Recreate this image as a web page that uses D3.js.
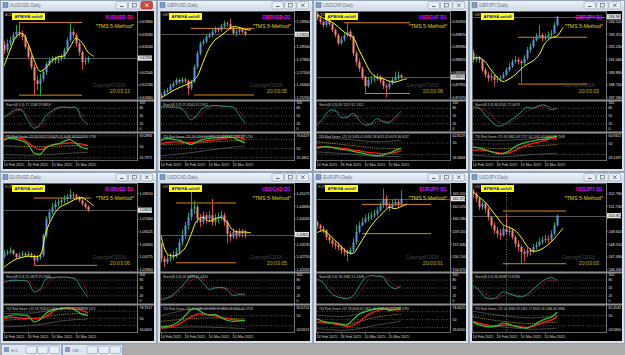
<!DOCTYPE html>
<html>
<head>
<meta charset="utf-8">
<script src="https://cdn.jsdelivr.net/npm/d3@7"></script>
<style>
  body { margin: 0; background: #ababab; overflow: hidden; }
  svg { display: block; }
  text { font-family: "Liberation Sans", Arial, sans-serif; }
</style>
</head>
<body>
<svg id="desk" width="625" height="355"></svg>
<script>
// Daily bars 14 Feb 2025 .. 26 Mar 2025
const dateLabels = ['14 Feb 2025', '26 Feb 2025', '10 Mar 2025', '20 Mar 2025'];
const dateBars = [0, 8, 16, 24];
const maStep = 2;          // MA / Stoch / TDI values are given every 2 bars
const bandBars = [0, 10, 20, 28];

// ---------- AUDUSD ----------
const audusdOpen0 = 0.6330;
const audusdClose = [0.6315,0.6334,0.6343,0.6357,0.6366,0.6362,0.6352,0.6324,0.6297,0.6269,0.6232,0.6222,0.6236,0.6255,0.6278,0.6287,0.6292,0.6287,0.6292,0.6297,0.6315,0.6343,0.6366,0.6357,0.6334,0.6310,0.6283,0.6287,0.62934];
const audusdHigh = [0.6340,0.6345,0.6352,0.6364,0.6385,0.6390,0.6370,0.6360,0.6332,0.6303,0.6276,0.6245,0.6250,0.6262,0.6283,0.6295,0.6300,0.6298,0.6300,0.6305,0.6322,0.6350,0.6392,0.6375,0.6362,0.6340,0.6315,0.6296,0.6298];
const audusdLow = [0.6305,0.6308,0.6326,0.6336,0.6350,0.6352,0.6342,0.6318,0.6290,0.6262,0.6190,0.6205,0.6188,0.6228,0.6248,0.6270,0.6280,0.6278,0.6280,0.6285,0.6290,0.6310,0.6338,0.6348,0.6325,0.6300,0.6262,0.6275,0.6280];
const audusdMa = [0.6271,0.6315,0.6352,0.6362,0.6334,0.6289,0.6257,0.6267,0.6287,0.6297,0.6300,0.6324,0.6348,0.6336,0.6310,0.6298];
const audusdTicks = [0.63940,0.63590,0.63240,0.62890,0.62540,0.62190,0.61840];
const audusdLevels = [0.6392, 0.6191];
const audusdLevelBars = [[5, 26], [5, 26]];
const audusdStochK = [45,61,74,71,32,3,17,52,69,82,85,82,82,39,17.1188];
const audusdStochD = [50,55,68,74,50,15,8,35,60,78,84,83,84,55,29.8818];
const audusdTdiGreen = [61,64,62.5,60,54,40,38,48,53,55,59,62,56,49,46.6520];
const audusdTdiRed = [63,64.5,64.8,63.5,57,50,45.5,49,53,54.5,55.5,56.4,55.8,54.5,51.5758];
const audusdTdiUpper = [66.5,65,64.5,65.9321];
const audusdTdiBase = [52,50.5,51.5,53.4629];
const audusdTdiLower = [37.5,36.5,39,41.0036];
const audusdTdiRange = [31.7971, 69.2894];

// ---------- GBPUSD ----------
const gbpusdOpen0 = 1.2570;
const gbpusdClose = [1.2585,1.2603,1.2612,1.2635,1.2649,1.2668,1.2658,1.2671,1.2664,1.2622,1.2658,1.2741,1.2815,1.2870,1.2880,1.2907,1.2916,1.2935,1.2953,1.2944,1.2966,1.2981,1.2977,1.2953,1.2926,1.2935,1.2948,1.2935,1.29207];
const gbpusdHigh = [1.2598,1.2615,1.2625,1.2648,1.2662,1.2680,1.2676,1.2684,1.2680,1.2670,1.2668,1.2752,1.2828,1.2882,1.2895,1.2918,1.2930,1.2948,1.2965,1.2960,1.2978,1.2995,1.2990,1.3008,1.2962,1.2945,1.2960,1.2952,1.2942];
const gbpusdLow = [1.2561,1.2578,1.2595,1.2605,1.2625,1.2640,1.2645,1.2648,1.2652,1.2585,1.2612,1.2650,1.2730,1.2805,1.2860,1.2870,1.2898,1.2905,1.2925,1.2930,1.2935,1.2955,1.2962,1.2945,1.2915,1.2910,1.2922,1.2925,1.2910];
const gbpusdMa = [1.2570,1.2588,1.2609,1.2625,1.2640,1.2655,1.2686,1.2765,1.2843,1.2889,1.2913,1.2940,1.2962,1.2959,1.2948,1.2944];
const gbpusdTicks = [1.29900,1.29200,1.28500,1.27800,1.27100,1.26400,1.25700];
const gbpusdLevels = [1.2953, 1.2585];
const gbpusdLevelBars = [[10, 31], [11, 31]];
const gbpusdStochK = [86,85,84,82,65,35,55,80,88,91,88,86,84,55,21.6202];
const gbpusdStochD = [84,85,85,83,75,50,45,65,82,88,89,87,85,70,41.2952];
const gbpusdTdiGreen = [66,70,68,66,62,58,63,68,70,71,72,73,72,66,61.2945];
const gbpusdTdiRed = [60,62,63,63,62,62,63,64,66,67,69,71,72,72,68.1230];
const gbpusdTdiUpper = [71,72,75,76.1204];
const gbpusdTdiBase = [58,60,64,66.8800];
const gbpusdTdiLower = [36,42,50,55.4132];
const gbpusdTdiRange = [31.4802, 76.6419];

// ---------- USDCHF ----------
const usdchfOpen0 = 0.9065;
const usdchfClose = [0.9048,0.9035,0.9022,0.9041,0.9026,0.9003,0.8984,0.8953,0.8968,0.8984,0.8997,0.8978,0.8915,0.8883,0.8858,0.8824,0.8791,0.8814,0.8816,0.8819,0.8827,0.8811,0.8791,0.8786,0.8801,0.8814,0.8823,0.8832,0.88254];
const usdchfHigh = [0.9073,0.9055,0.9042,0.9050,0.9046,0.9030,0.9010,0.8992,0.8980,0.8992,0.9031,0.9005,0.8985,0.8925,0.8895,0.8865,0.8830,0.8826,0.8830,0.8835,0.8838,0.8832,0.8818,0.8800,0.8808,0.8822,0.8846,0.8846,0.8838];
const usdchfLow = [0.9040,0.9025,0.9012,0.9015,0.9018,0.8995,0.8975,0.8945,0.8948,0.8960,0.8978,0.8968,0.8905,0.8870,0.8845,0.8815,0.8766,0.8785,0.8800,0.8805,0.8812,0.8800,0.8780,0.8748,0.8778,0.8795,0.8808,0.8815,0.8815];
const usdchfMa = [0.9060,0.9050,0.9039,0.9026,0.9006,0.8988,0.8976,0.8928,0.8883,0.8842,0.8824,0.8819,0.8810,0.8806,0.8813,0.8819];
const usdchfTicks = [0.90350,0.89870,0.89390,0.88910,0.88430,0.87950,0.87470];
const usdchfLevels = [0.9031, 0.8763];
const usdchfLevelBars = [[9, 31], [16, 31]];
const usdchfStochK = [15,40,70,72,45,45,60,35,15,20,40,28,25,45,69.1257];
const usdchfStochD = [30,30,55,68,60,48,52,48,28,18,28,32,28,35,61.1921];
const usdchfTdiGreen = [42,44,44,42,40,39,37,35,33,31,30,31,34,38,41.6676];
const usdchfTdiRed = [44,44,43,43,42,41,39,38,36,35,34,33,34,35,38.0537];
const usdchfTdiUpper = [59,56,52,54.5433];
const usdchfTdiBase = [52,47,42,41.6933];
const usdchfTdiLower = [36,33,29,28.8413];
const usdchfTdiRange = [26.3668, 62.8129];

// ---------- GBPJPY ----------
const gbpjpyOpen0 = 191.70;
const gbpjpyClose = [191.03,191.18,191.03,190.12,189.67,189.37,189.52,189.21,189.30,189.37,189.67,190.12,190.42,190.88,191.03,190.88,190.73,191.18,191.94,192.24,192.85,193.15,193.30,193.00,193.15,193.30,193.45,194.21,194.963];
const gbpjpyHigh = [191.95,191.45,191.40,191.10,190.30,189.90,189.85,189.70,189.55,189.60,189.95,190.35,190.75,191.10,191.40,191.25,191.05,191.45,192.20,192.55,193.10,193.45,194.21,193.50,193.40,193.60,193.75,194.45,195.05];
const gbpjpyLow = [190.80,190.85,190.75,189.90,189.40,189.05,189.10,188.61,188.95,189.05,189.30,189.55,189.95,190.30,190.70,190.60,188.91,190.55,191.00,191.70,192.10,192.70,192.95,192.75,192.80,192.95,193.05,193.35,194.05];
const gbpjpyMa = [191.18,191.24,190.88,190.12,189.46,189.06,189.27,189.67,190.18,190.64,190.94,191.48,192.54,193.03,193.21,194.00];
const gbpjpyTicks = [194.510,193.370,192.230,191.060,189.890,188.750,187.580];
const gbpjpyLevels = [193.09, 188.82];
const gbpjpyLevelBars = [[15, 38], [15, 38]];
const gbpjpyStochK = [85,80,55,30,12,15,30,45,65,83,80,90,92,75,80.6161];
const gbpjpyStochD = [75,78,72,55,30,20,20,35,50,68,80,85,88,85,71.0079];
const gbpjpyTdiGreen = [45,43,40,37,34,34,38,45,50,53,55,57,58,61,63.0817];
const gbpjpyTdiRed = [39,40,39,37,35,34,35,39,44,48,51,53,56,58,59.7948];
const gbpjpyTdiUpper = [57,56,59,63.3862];
const gbpjpyTdiBase = [44,42,46,48.7727];
const gbpjpyTdiLower = [31,28,32,34.1592];
const gbpjpyTdiRange = [26.1329, 64.9322];

// ---------- EURUSD ----------
const eurusdOpen0 = 1.0480;
const eurusdClose = [1.0500,1.0512,1.0523,1.0500,1.0477,1.0489,1.0500,1.0489,1.0500,1.0489,1.0454,1.0477,1.0489,1.0627,1.0742,1.0788,1.0823,1.0846,1.0857,1.0869,1.0880,1.0892,1.0908,1.0903,1.0892,1.0869,1.0846,1.0823,1.08011];
const eurusdHigh = [1.0525,1.0530,1.0545,1.0530,1.0505,1.0510,1.0520,1.0512,1.0518,1.0510,1.0495,1.0492,1.0505,1.0640,1.0760,1.0810,1.0850,1.0870,1.0880,1.0890,1.0905,1.0915,1.0945,1.0925,1.0915,1.0900,1.0878,1.0855,1.0835];
const eurusdLow = [1.0470,1.0488,1.0500,1.0490,1.0465,1.0468,1.0480,1.0475,1.0478,1.0470,1.0415,1.0445,1.0460,1.0478,1.0610,1.0720,1.0770,1.0805,1.0825,1.0835,1.0848,1.0860,1.0875,1.0880,1.0870,1.0855,1.0830,1.0810,1.0790];
const eurusdMa = [1.0408,1.0438,1.0464,1.0475,1.0484,1.0480,1.0489,1.0650,1.0747,1.0811,1.0837,1.0857,1.0880,1.0887,1.0862,1.0830];
const eurusdTicks = [1.09150,1.08275,1.07400,1.06525,1.05650,1.04775,1.03900];
const eurusdLevels = [1.0885, 1.0420];
const eurusdLevelBars = [[10, 29], [10, 31]];
const eurusdStochK = [73,79,80,78,75,35,45,85,90,92,92,90,82,45,15.0873];
const eurusdStochD = [70,75,78,79,77,60,40,60,85,90,92,91,88,70,29.9906];
const eurusdTdiGreen = [53,57,59,58,56,41,46,63,70,74,76,76,70,60,57.2648];
const eurusdTdiRed = [49,53,52,50,50,49,49,55,65,73,75,75,74,70,64.2571];
const eurusdTdiUpper = [62,64,76,76.7626];
const eurusdTdiBase = [45,50,60,62.4600];
const eurusdTdiLower = [28,32,44,48.1574];
const eurusdTdiRange = [20.0605, 78.7517];

// ---------- USDCAD ----------
const usdcadOpen0 = 1.4326;
const usdcadClose = [1.4269,1.4256,1.4269,1.4275,1.4281,1.4294,1.4332,1.4358,1.4396,1.4428,1.4460,1.4466,1.4422,1.4409,1.4435,1.4422,1.4435,1.4409,1.4422,1.4428,1.4435,1.4409,1.4364,1.4352,1.4371,1.4358,1.4371,1.4366,1.43612];
const usdcadHigh = [1.4330,1.4280,1.4285,1.4290,1.4298,1.4310,1.4345,1.4380,1.4410,1.4445,1.4537,1.4490,1.4475,1.4440,1.4450,1.4445,1.4450,1.4498,1.4440,1.4445,1.4452,1.4445,1.4418,1.4375,1.4385,1.4380,1.4385,1.4382,1.4378];
const usdcadLow = [1.4255,1.4237,1.4248,1.4258,1.4265,1.4272,1.4285,1.4320,1.4345,1.4380,1.4415,1.4440,1.4405,1.4390,1.4400,1.4405,1.4410,1.4395,1.4395,1.4405,1.4415,1.4395,1.4326,1.4335,1.4345,1.4345,1.4350,1.4350,1.4348];
const usdcadMa = [1.4358,1.4288,1.4279,1.4287,1.4310,1.4361,1.4415,1.4427,1.4412,1.4422,1.4427,1.4409,1.4377,1.4371,1.4371,1.4367];
const usdcadTicks = [1.45175,1.44690,1.44205,1.43720,1.43235,1.42750,1.42265];
const usdcadLevels = [1.4482, 1.4253];
const usdcadLevelBars = [[5, 25], [5, 25]];
const usdcadStochK = [5,10,25,45,70,95,92,70,45,50,53,45,22,25,26.8375];
const usdcadStochD = [12,14,18,35,55,80,90,82,62,52,50,50,38,28,21.4420];
const usdcadTdiGreen = [30,31,34,40,50,61,62,55,51,52,47,42,40,41,41.8350];
const usdcadTdiRed = [28,29,31,35,42,48,53,53,52,50,47,45,43,42,41.3718];
const usdcadTdiUpper = [50,62,63,61.1080];
const usdcadTdiBase = [40,45,46,44.0936];
const usdcadTdiLower = [28,30,29,27.0813];
const usdcadTdiRange = [24.5613, 65.6714];

// ---------- EURJPY ----------
const eurjpyOpen0 = 160.20;
const eurjpyClose = [159.85,159.46,159.27,158.49,158.10,157.71,157.51,157.32,156.93,156.73,156.54,156.93,157.90,159.07,159.85,160.24,160.63,160.82,161.02,161.21,161.60,162.19,162.97,162.19,161.99,162.38,162.58,162.38,162.972];
const eurjpyHigh = [160.40,160.05,159.80,159.40,158.75,158.35,158.00,157.85,157.55,157.20,157.00,157.30,158.40,159.90,160.30,160.70,161.10,161.30,161.45,161.65,162.00,162.55,164.13,163.40,162.60,162.80,163.00,162.90,163.94];
const eurjpyLow = [159.50,159.10,158.90,158.10,157.70,157.30,157.05,156.90,156.50,156.30,155.64,156.40,156.70,157.60,158.90,159.70,160.10,160.30,160.50,160.75,161.00,161.45,161.90,161.90,161.50,161.80,162.05,161.95,162.10];
const eurjpyMa = [158.99,159.23,158.76,158.10,157.40,156.77,156.58,157.51,158.68,159.77,160.63,161.33,161.95,161.80,162.03,162.34];
const eurjpyTicks = [163.550,162.070,160.590,159.110,157.630,156.150,154.670];
const eurjpyLevels = [162.30, 158.88];
const eurjpyLevelBars = [[15, 38], [15, 38]];
const eurjpyStochK = [86,70,40,20,12,10,20,55,88,98,95,92,60,48,58.2081];
const eurjpyStochD = [80,75,60,35,18,8,10,30,65,90,96,95,80,60,51.2408];
const eurjpyTdiGreen = [52,46,44,42,40,38,50,62,68,72,75,76,71,73,76.1653];
const eurjpyTdiRed = [44,44,42,40,37,35,37,45,56,64,70,73,74,72,72.0783];
const eurjpyTdiUpper = [60,58,74,78.0606];
const eurjpyTdiBase = [44,40,56,62.2801];
const eurjpyTdiLower = [30,26,38,46.5000];
const eurjpyTdiRange = [26.6200, 78.4625];

// ---------- USDJPY ----------
const usdjpyOpen0 = 153.05;
const usdjpyClose = [152.79,152.37,151.67,151.95,151.53,150.84,150.14,149.72,149.44,149.30,149.86,149.58,149.72,149.16,148.61,148.33,147.91,147.77,148.05,147.91,148.33,148.47,148.75,148.89,149.02,148.95,149.44,150.14,150.952];
const usdjpyHigh = [153.20,152.95,152.50,152.15,152.10,151.60,150.95,150.40,150.00,149.85,150.10,151.12,150.05,149.85,149.30,148.90,148.50,148.20,148.30,148.25,148.60,148.75,149.05,149.20,149.35,149.30,149.70,150.40,151.03];
const usdjpyLow = [152.45,152.10,151.40,151.45,151.20,150.55,149.90,149.45,149.10,148.95,149.20,149.35,149.30,148.95,148.30,147.95,146.93,147.10,147.50,147.60,147.80,148.10,148.35,148.55,148.70,148.65,148.85,149.30,150.05];
const usdjpyMa = [152.93,152.51,152.09,151.48,150.84,150.20,149.97,149.72,149.16,148.41,147.99,148.05,148.33,148.75,149.30,149.92];
const usdjpyTicks = [152.790,151.730,150.670,149.610,148.550,147.490,146.430];
const usdjpyLevels = [151.34, 146.93];
const usdjpyLevelBars = [[10, 31], [10, 31]];
const usdjpyStochK = [60,42,14,8,15,35,28,20,16,25,45,65,82,90,80.8288];
const usdjpyStochD = [50,48,30,12,10,20,30,25,20,20,32,50,68,80,75.8784];
const usdjpyTdiGreen = [39,34,31,30,32,37,35,31,29,28,32,39,44,47,56.1486];
const usdjpyTdiRed = [40,37,34,32,32,33,33,32,30,29,31,35,39,42,48.3966];
const usdjpyTdiUpper = [58,50,46,50.3684];
const usdjpyTdiBase = [48,40,36,39.1302];
const usdjpyTdiLower = [36,30,26,27.8920];
const usdjpyTdiRange = [24.5800, 65.4545];
const usdjpySeparators = [11];

// table for drawing, built from the arrays above
const charts = [
  { sym: 'AUDUSD', time: '20:03:13', digits: 5, active: true, open0: audusdOpen0, close: audusdClose, high: audusdHigh, low: audusdLow, ma: audusdMa, ticks: audusdTicks, levels: audusdLevels, levelBars: audusdLevelBars, k: audusdStochK, d: audusdStochD, green: audusdTdiGreen, red: audusdTdiRed, upper: audusdTdiUpper, base: audusdTdiBase, lower: audusdTdiLower, range: audusdTdiRange, seps: [] },
  { sym: 'GBPUSD', time: '20:03:05', digits: 5, open0: gbpusdOpen0, close: gbpusdClose, high: gbpusdHigh, low: gbpusdLow, ma: gbpusdMa, ticks: gbpusdTicks, levels: gbpusdLevels, levelBars: gbpusdLevelBars, k: gbpusdStochK, d: gbpusdStochD, green: gbpusdTdiGreen, red: gbpusdTdiRed, upper: gbpusdTdiUpper, base: gbpusdTdiBase, lower: gbpusdTdiLower, range: gbpusdTdiRange, seps: [] },
  { sym: 'USDCHF', time: '20:03:08', digits: 5, open0: usdchfOpen0, close: usdchfClose, high: usdchfHigh, low: usdchfLow, ma: usdchfMa, ticks: usdchfTicks, levels: usdchfLevels, levelBars: usdchfLevelBars, k: usdchfStochK, d: usdchfStochD, green: usdchfTdiGreen, red: usdchfTdiRed, upper: usdchfTdiUpper, base: usdchfTdiBase, lower: usdchfTdiLower, range: usdchfTdiRange, seps: [] },
  { sym: 'GBPJPY', time: '20:03:03', digits: 3, open0: gbpjpyOpen0, close: gbpjpyClose, high: gbpjpyHigh, low: gbpjpyLow, ma: gbpjpyMa, ticks: gbpjpyTicks, levels: gbpjpyLevels, levelBars: gbpjpyLevelBars, k: gbpjpyStochK, d: gbpjpyStochD, green: gbpjpyTdiGreen, red: gbpjpyTdiRed, upper: gbpjpyTdiUpper, base: gbpjpyTdiBase, lower: gbpjpyTdiLower, range: gbpjpyTdiRange, seps: [] },
  { sym: 'EURUSD', time: '20:03:06', digits: 5, open0: eurusdOpen0, close: eurusdClose, high: eurusdHigh, low: eurusdLow, ma: eurusdMa, ticks: eurusdTicks, levels: eurusdLevels, levelBars: eurusdLevelBars, k: eurusdStochK, d: eurusdStochD, green: eurusdTdiGreen, red: eurusdTdiRed, upper: eurusdTdiUpper, base: eurusdTdiBase, lower: eurusdTdiLower, range: eurusdTdiRange, seps: [] },
  { sym: 'USDCAD', time: '20:03:05', digits: 5, open0: usdcadOpen0, close: usdcadClose, high: usdcadHigh, low: usdcadLow, ma: usdcadMa, ticks: usdcadTicks, levels: usdcadLevels, levelBars: usdcadLevelBars, k: usdcadStochK, d: usdcadStochD, green: usdcadTdiGreen, red: usdcadTdiRed, upper: usdcadTdiUpper, base: usdcadTdiBase, lower: usdcadTdiLower, range: usdcadTdiRange, seps: [] },
  { sym: 'EURJPY', time: '20:03:01', digits: 3, open0: eurjpyOpen0, close: eurjpyClose, high: eurjpyHigh, low: eurjpyLow, ma: eurjpyMa, ticks: eurjpyTicks, levels: eurjpyLevels, levelBars: eurjpyLevelBars, k: eurjpyStochK, d: eurjpyStochD, green: eurjpyTdiGreen, red: eurjpyTdiRed, upper: eurjpyTdiUpper, base: eurjpyTdiBase, lower: eurjpyTdiLower, range: eurjpyTdiRange, seps: [] },
  { sym: 'USDJPY', time: '20:03:03', digits: 3, open0: usdjpyOpen0, close: usdjpyClose, high: usdjpyHigh, low: usdjpyLow, ma: usdjpyMa, ticks: usdjpyTicks, levels: usdjpyLevels, levelBars: usdjpyLevelBars, k: usdjpyStochK, d: usdjpyStochD, green: usdjpyTdiGreen, red: usdjpyTdiRed, upper: usdjpyTdiUpper, base: usdjpyTdiBase, lower: usdjpyTdiLower, range: usdjpyTdiRange, seps: usdjpySeparators }
];

const svg = d3.select('#desk');
const defs = svg.append('defs');
const tg = defs.append('linearGradient').attr('id', 'titleGrad').attr('x1', 0).attr('y1', 0).attr('x2', 0).attr('y2', 1);
tg.append('stop').attr('offset', '0%').attr('stop-color', '#eef3f9');
tg.append('stop').attr('offset', '100%').attr('stop-color', '#cfdae8');

svg.append('rect').attr('width', 625).attr('height', 355).attr('fill', '#ababab');

const colX = [0, 157, 313, 469];
const colW = [157, 156, 156, 156];
const rowY = [0, 172];
const winH = 172;
const fmt4 = d3.format('.4f');
const smooth = d3.curveCatmullRom.alpha(0.5);

function txt(g, x, y, s, size, fill, opts = {}) {
  return g.append('text').attr('x', x).attr('y', y).text(s)
    .attr('font-size', size).attr('fill', fill)
    .attr('font-weight', opts.bold ? 'bold' : null)
    .attr('text-anchor', opts.anchor || 'start');
}

function drawWindow(c, idx) {
  const w = colW[idx % 4];
  const g = svg.append('g').attr('transform', `translate(${colX[idx % 4]},${rowY[Math.floor(idx / 4)]})`);

  // window frame + title bar
  g.append('rect').attr('x', 0.5).attr('y', 0.5).attr('width', w - 1).attr('height', winH - 1)
    .attr('fill', '#d7e0ea').attr('stroke', '#95a5b8');
  g.append('rect').attr('x', 1).attr('y', 1).attr('width', w - 2).attr('height', 9).attr('fill', 'url(#titleGrad)');
  g.append('rect').attr('x', 3).attr('y', 2.5).attr('width', 5).attr('height', 5).attr('fill', '#7d9cc4').attr('stroke', '#4d6c94').attr('stroke-width', 0.5);
  txt(g, 10, 7.4, `${c.sym},Daily`, 4.6, '#6b7480');
  ['min', 'max', 'close'].forEach((b, j) => {
    const bx = w - 41 + j * 12.5;
    const red = c.active && b === 'close';
    g.append('rect').attr('x', bx).attr('y', 1.5).attr('width', 11.5).attr('height', 7.5).attr('rx', 1.5)
      .attr('fill', red ? '#cf4a3c' : '#e8eef5').attr('stroke', red ? '#8e2a20' : '#8d9bad').attr('stroke-width', 0.6);
    const gc = red ? '#fff' : '#5b6775';
    if (b === 'min') g.append('line').attr('x1', bx + 4).attr('x2', bx + 7.5).attr('y1', 6.5).attr('y2', 6.5).attr('stroke', gc);
    if (b === 'max') g.append('rect').attr('x', bx + 3.8).attr('y', 3.5).attr('width', 4).attr('height', 3.5).attr('fill', 'none').attr('stroke', gc).attr('stroke-width', 0.7);
    if (b === 'close') g.append('path').attr('d', `M${bx + 4},3.5L${bx + 7.5},7M${bx + 7.5},3.5L${bx + 4},7`).attr('stroke', gc).attr('stroke-width', 0.9);
  });

  // black chart area
  g.append('rect').attr('x', 3).attr('y', 11).attr('width', w - 6).attr('height', 158).attr('fill', '#000');

  const x = d3.scaleLinear().domain([0, 44]).range([4, 136]);
  const y = d3.scaleLinear().domain([c.ticks[c.ticks.length - 1], c.ticks[0]]).range([97.7, 21.7]);
  const ys = d3.scaleLinear().domain([0, 100]).range([129, 103]);
  const yt = d3.scaleLinear().domain(c.range).range([158, 135]);

  const clipId = 'clip' + idx;
  g.append('clipPath').attr('id', clipId).append('rect').attr('x', 4).attr('y', 12).attr('width', 133).attr('height', 87);
  const main = g.append('g').attr('clip-path', `url(#${clipId})`);

  // vertical period separators
  c.seps.forEach(b => {
    g.append('line').attr('x1', x(b) + 0.5).attr('x2', x(b) + 0.5).attr('y1', 12).attr('y2', 160)
      .attr('stroke', '#9a9a9a').attr('stroke-dasharray', '1,1.5').attr('stroke-width', 0.7);
  });

  // bid line
  const last = c.close[c.close.length - 1];
  main.append('line').attr('x1', 4).attr('x2', 137).attr('y1', Math.round(y(last)) + 0.5).attr('y2', Math.round(y(last)) + 0.5)
    .attr('stroke', '#6a6a6a').attr('stroke-width', 0.8);

  // support / resistance lines
  main.selectAll('line.level').data(c.levels.map((v, k) => ({ v, from: c.levelBars[k][0], to: c.levelBars[k][1] })))
    .join('line').attr('class', 'level')
    .attr('x1', d => x(d.from)).attr('x2', d => x(d.to))
    .attr('y1', d => y(d.v)).attr('y2', d => y(d.v))
    .attr('stroke', '#d8861c').attr('stroke-width', 1);

  // candles
  const bars = c.close.map((cl, i) => {
    const o = i ? c.close[i - 1] : c.open0;
    return { i, o, c: cl, h: Math.max(c.high[i], o, cl), l: Math.min(c.low[i], o, cl) };
  });
  main.selectAll('line.wick').data(bars).join('line').attr('class', 'wick')
    .attr('x1', d => x(d.i) + 0.5).attr('x2', d => x(d.i) + 0.5)
    .attr('y1', d => y(d.h)).attr('y2', d => y(d.l))
    .attr('stroke', d => d.c >= d.o ? '#22a822' : '#d8473c').attr('stroke-width', 1);
  main.selectAll('rect.body').data(bars).join('rect').attr('class', 'body')
    .attr('x', d => x(d.i) - 0.5).attr('width', 2)
    .attr('y', d => y(Math.max(d.o, d.c)))
    .attr('height', d => Math.max(0.8, Math.abs(y(d.o) - y(d.c))))
    .attr('fill', d => d.c >= d.o ? '#5a90ea' : '#f2897d');

  // displaced MA
  main.append('path').datum(c.ma)
    .attr('d', d3.line().x((v, j) => x(j * maStep)).y(v => y(v)).curve(smooth))
    .attr('fill', 'none').attr('stroke', '#ffff00').attr('stroke-width', 1);

  // panel frames
  g.append('rect').attr('x', 3.5).attr('y', 11.5).attr('width', 134).attr('height', 149)
    .attr('fill', 'none').attr('stroke', '#7d7d7d').attr('stroke-width', 0.8);
  g.append('rect').attr('x', 3).attr('y', 99.5).attr('width', w - 6).attr('height', 2).attr('fill', '#8e8e8e');
  g.append('rect').attr('x', 3).attr('y', 131.5).attr('width', w - 6).attr('height', 2).attr('fill', '#8e8e8e');

  // overlays (symbol name mostly hidden behind the yellow button, only its start shows)
  txt(g, 5, 16.3, c.sym.slice(0, 3), 3.6, '#a8a8a8');
  g.append('rect').attr('x', 12).attr('y', 13).attr('width', 33).attr('height', 7).attr('fill', '#ffff00');
  txt(g, 28.5, 18.4, 'APB/HA on/off', 4.1, '#0000ee', { bold: true, anchor: 'middle' });
  txt(g, 133.5, 19, `${c.sym} D1`, 4.9, '#ff00ff', { bold: true, anchor: 'end' });
  txt(g, 134, 28, '*TMS 5-Method*', 5.2, '#e2c824', { anchor: 'end' });
  txt(g, 93, 86.5, 'Copyright©2016', 4.5, '#4c4c4c');
  txt(g, 130, 92.5, c.time, 5.2, '#c4ae10', { anchor: 'end' });

  // price axis (labels hidden by the bid box are not drawn)
  const visTicks = c.ticks.filter(v => Math.abs(y(v) - y(last)) > 4.2);
  g.selectAll('text.tick').data(visTicks).join('text').attr('class', 'tick')
    .attr('x', 139.5).attr('y', v => y(v) + 1.3).text(v => v.toFixed(c.digits))
    .attr('font-size', 3.7).attr('fill', '#e4e4e4');
  g.selectAll('line.tickm').data(c.ticks).join('line').attr('class', 'tickm')
    .attr('x1', 137).attr('x2', 139).attr('y1', v => y(v)).attr('y2', v => y(v))
    .attr('stroke', '#9a9a9a').attr('stroke-width', 0.6);
  g.append('rect').attr('x', 138).attr('y', y(last) - 2.6).attr('width', 14).attr('height', 5.2).attr('fill', '#e2e2e2');
  txt(g, 139.5, y(last) + 1.3, last.toFixed(c.digits), 3.7, '#000');

  // stochastic
  [80, 50, 20].forEach(v => {
    g.append('line').attr('x1', 4).attr('x2', 137).attr('y1', ys(v)).attr('y2', ys(v))
      .attr('stroke', '#8a8a8a').attr('stroke-width', 0.6).attr('stroke-dasharray', '1,1.5');
  });
  [100, 80, 50, 20, 0].forEach(v => txt(g, 139.5, ys(v) + 1.2, String(v), 3.3, '#e0e0e0'));
  const stochLine = d3.line().x((v, j) => x(j * maStep)).y(v => ys(v)).curve(smooth);
  g.append('path').datum(c.d).attr('d', stochLine).attr('fill', 'none')
    .attr('stroke', '#c83030').attr('stroke-width', 0.8).attr('stroke-dasharray', '1.2,1');
  g.append('path').datum(c.k).attr('d', stochLine).attr('fill', 'none')
    .attr('stroke', '#2f9c9c').attr('stroke-width', 0.9);
  txt(g, 6, 105.5, `Stoch(8,3,3) ${fmt4(c.k[c.k.length - 1])} ${fmt4(c.d[c.d.length - 1])}`, 3.4, '#c8c8c8');

  // TDI
  [68, 50, 32].forEach(v => {
    g.append('line').attr('x1', 4).attr('x2', 137).attr('y1', yt(v)).attr('y2', yt(v))
      .attr('stroke', '#8a8a8a').attr('stroke-width', 0.6).attr('stroke-dasharray', '1,1.5');
  });
  txt(g, 139.5, 136.8, fmt4(c.range[1]), 3.5, '#e0e0e0');
  txt(g, 139.5, yt(50) + 1.3, '50', 3.5, '#e0e0e0');
  txt(g, 139.5, 159.3, fmt4(c.range[0]), 3.5, '#e0e0e0');
  const bandLine = d3.line().x((v, j) => x(bandBars[j])).y(v => yt(v)).curve(smooth);
  [c.upper, c.lower].forEach(arr => {
    g.append('path').datum(arr).attr('d', bandLine).attr('fill', 'none').attr('stroke', '#5c5c5c').attr('stroke-width', 0.8);
  });
  g.append('path').datum(c.base).attr('d', bandLine).attr('fill', 'none')
    .attr('stroke', '#c0ac10').attr('stroke-width', 0.8).attr('stroke-dasharray', '1.2,1');
  const tdiLine = d3.line().x((v, j) => x(j * maStep)).y(v => yt(v)).curve(smooth);
  g.append('path').datum(c.red).attr('d', tdiLine).attr('fill', 'none').attr('stroke', '#ff1a1a').attr('stroke-width', 1.3);
  g.append('path').datum(c.green).attr('d', tdiLine).attr('fill', 'none').attr('stroke', '#35c435').attr('stroke-width', 1.2);
  const lastOf = a => a[a.length - 1];
  txt(g, 6, 137.6, `TDI Red Green #25 ${fmt4(lastOf(c.upper))} ${fmt4(lastOf(c.base))} ${fmt4(lastOf(c.lower))} ${fmt4(lastOf(c.green))} ${fmt4(lastOf(c.red))}`, 3.2, '#c8c8c8');

  // time axis
  g.append('line').attr('x1', 137.5).attr('x2', 137.5).attr('y1', 11.5).attr('y2', 161).attr('stroke', '#7d7d7d').attr('stroke-width', 0.8);
  dateBars.forEach((b, j) => {
    g.append('line').attr('x1', x(b) + 0.5).attr('x2', x(b) + 0.5).attr('y1', 160.5).attr('y2', 162.5).attr('stroke', '#9a9a9a').attr('stroke-width', 0.6);
    txt(g, x(b) - 0.5, 166.3, dateLabels[j], 3.7, '#d8d8d8');
  });
}

charts.forEach(drawWindow);

// minimised chart windows at the bottom of the terminal
['EU...', 'GB...'].forEach((name, j) => {
  const mx = 1 + j * 61;
  const g = svg.append('g').attr('transform', `translate(${mx},344)`);
  g.append('rect').attr('x', 0.5).attr('y', 0.5).attr('width', 60).attr('height', 11).attr('fill', '#dde6f0').attr('stroke', '#97a7ba');
  g.append('rect').attr('x', 3).attr('y', 3).attr('width', 5).attr('height', 5).attr('fill', '#7d9cc4');
  txt(g, 10, 8, name, 4.4, '#6b7480');
  [0, 1, 2].forEach(b => {
    g.append('rect').attr('x', 25 + b * 11.5).attr('y', 2).attr('width', 10.5).attr('height', 7.5).attr('rx', 1.5)
      .attr('fill', '#e8eef5').attr('stroke', '#8d9bad').attr('stroke-width', 0.6);
  });
});
</script>
</body>
</html>
